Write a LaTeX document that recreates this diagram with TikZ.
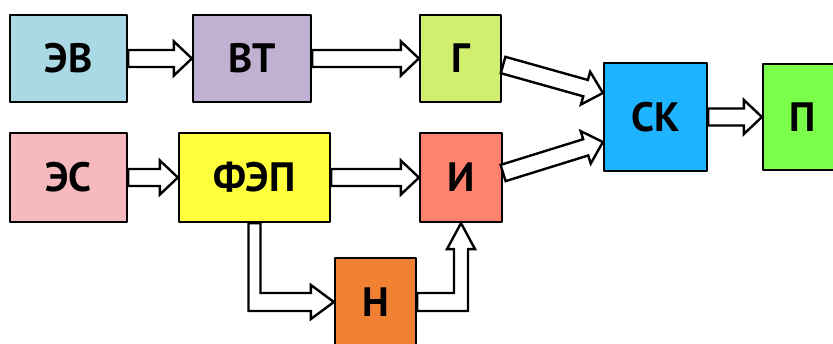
\documentclass[tikz,border=0pt]{standalone}
\usepackage{fontspec}
\setmainfont{PT Sans}
\usetikzlibrary{calc}

\definecolor{evcol}{RGB}{170,216,228}
\definecolor{vtcol}{RGB}{192,176,210}
\definecolor{gcol}{RGB}{210,238,110}
\definecolor{skcol}{RGB}{30,180,255}
\definecolor{pcol}{RGB}{122,255,74}
\definecolor{escol}{RGB}{246,185,190}
\definecolor{fepcol}{RGB}{255,255,60}
\definecolor{icol}{RGB}{255,130,110}
\definecolor{ncol}{RGB}{240,128,50}

\tikzset{
  blk/.style={draw, line width=2.2pt, inner sep=0pt, minimum height=87pt,
    font=\fontsize{41}{41}\selectfont\bfseries},
  barr/.style={draw, fill=white, line width=2.4pt, line join=miter}
}

% hollow block arrow from #1 to #2
\newcommand{\blockarrow}[2]{%
  \coordinate (hb) at ($(#2)!18pt!(#1)$);
  \draw[barr] ($(#1)!8.5pt!90:(#2)$) -- ($(hb)!8.5pt!90:(#2)$) -- ($(hb)!17pt!90:(#2)$) -- (#2)
    -- ($(hb)!17pt!-90:(#2)$) -- ($(hb)!8.5pt!-90:(#2)$) -- ($(#1)!8.5pt!-90:(#2)$) -- cycle;}

\begin{document}
\begin{tikzpicture}[line cap=round,line join=round,x=1pt,y=1pt]

\clip(0,-343) rectangle (833,0);
\useasboundingbox (0,-343) rectangle (833,0);

\node[blk, fill=evcol, minimum width=117pt] (ev) at (68.5,-58.5) {ЭВ};
\node[blk, fill=vtcol, minimum width=118pt] (vt) at (252,-58.5) {ВТ};
\node[blk, fill=gcol, minimum width=81pt] (g) at (460.5,-58.5) {Г};
\node[blk, fill=skcol, minimum width=103pt, minimum height=108pt] (sk) at (655.5,-117) {СК};
\node[blk, fill=pcol, minimum width=80pt, minimum height=106pt] (p) at (803,-117) {П};
\node[blk, fill=escol, minimum width=117pt, minimum height=89pt] (es) at (68.5,-177.5) {ЭС};
\node[blk, fill=fepcol, minimum width=151pt, minimum height=89pt] (fep) at (254.5,-177.5) {ФЭП};
\node[blk, fill=icol, minimum width=82pt, minimum height=89pt] (i) at (461,-177.5) {И};
\node[blk, fill=ncol, minimum width=81pt, minimum height=88pt] (n) at (375.5,-302) {Н};

\coordinate (g-out) at ($(g.east)+(1,-6.5)$);
\coordinate (sk-in1) at ($(sk.west)+(0,24)$);
\coordinate (i-out) at ($(i.east)+(0,4.5)$);
\coordinate (sk-in2) at ($(sk.west)+(0,-25)$);
\coordinate (c1) at (fep.south |- n.west);
\coordinate (c2) at (i.south |- n.east);

\blockarrow{ev.east}{vt.west}
\blockarrow{vt.east}{g.west}
\blockarrow{g-out}{sk-in1}
\blockarrow{i-out}{sk-in2}
\blockarrow{sk.east}{p.west}
\blockarrow{es.east}{fep.west}
\blockarrow{fep.east}{i.west}

\draw[barr] ($(fep.south)+(-6,0)$) -- ($(c1)+(-6,-9)$) -- ($(n.west)+(-23,-9)$)
  -- ($(n.west)+(-23,-17)$) -- (n.west) -- ($(n.west)+(-23,17)$) -- ($(n.west)+(-23,9)$)
  -- ($(c1)+(6,9)$) -- ($(fep.south)+(6,0)$) -- cycle;
\draw[barr] ($(n.east)+(0,9)$) -- ($(c2)+(-7,9)$) -- ($(i.south)+(-7,-26)$)
  -- ($(i.south)+(-14,-26)$) -- (i.south) -- ($(i.south)+(14,-26)$) -- ($(i.south)+(7,-26)$)
  -- ($(c2)+(7,-9)$) -- ($(n.east)+(0,-9)$) -- cycle;

\end{tikzpicture}
\end{document}
